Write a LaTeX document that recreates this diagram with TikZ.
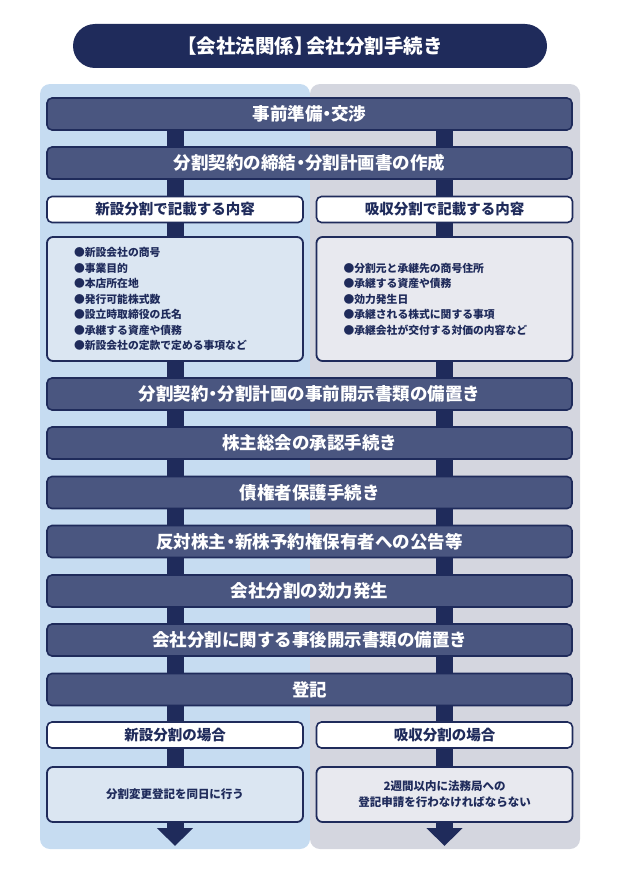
\documentclass[tikz,border=0pt]{standalone}
\usepackage{fontspec}
\setmainfont{Noto Sans CJK JP}
\usetikzlibrary{arrows.meta}
\definecolor{navy}{HTML}{1F2B5B}
\definecolor{barfill}{HTML}{4A5680}
\definecolor{panelblue}{HTML}{C6DCF1}
\definecolor{panelgrey}{HTML}{D4D6DF}
\definecolor{newfill}{HTML}{DBE6F2}
\definecolor{absfill}{HTML}{E8E9EF}
\newcommand{\nakaguro}{\kern-.25em・\kern-.25em}
\begin{document}
\begin{tikzpicture}[x=1pt,y=-1pt,
		flowbar/.style={draw=navy,line width=1.6pt,fill=barfill,rounded corners=5pt,minimum width=525pt,minimum height=32pt,text=white,font=\bfseries\fontsize{17.5}{19}\selectfont},
		headbox/.style={draw=navy,line width=1.6pt,fill=white,rounded corners=5pt,minimum width=256pt,minimum height=26pt,text=navy,font=\bfseries\fontsize{14.5}{16}\selectfont},
		listbox/.style={draw=navy,line width=1.8pt,rounded corners=6pt,minimum height=124pt,inner xsep=27pt,text width=202pt,align=left,text=navy,font=\bfseries\fontsize{10.8}{15.5}\selectfont},
		stem/.style={draw=navy,line width=17pt},
		stemend/.style={draw=navy,line width=17pt,-{Triangle[width=35pt,length=18pt]}}]
			\useasboundingbox (0,0) rectangle (620,891);
			\fill[panelblue,rounded corners=10pt] (40,84) rectangle (310,849);
			\fill[panelgrey,rounded corners=10pt] (310,84) rectangle (580,849);
			\node[fill=navy,rounded corners=22pt,minimum width=474pt,minimum height=44pt,text=white,font=\bfseries\fontsize{19.5}{21}\selectfont] (title) at (310,46) {【会社法関係】\kern-.4em会社分割手続き};
			\node[flowbar] (prep) at (309.5,114) {事前準備\nakaguro 交渉};
			\node[flowbar] (plan) at (309.5,163) {分割契約の締結\nakaguro 分割計画書の作成};
			\node[headbox] (newhead) at (175,209.5) {新設分割で記載する内容};
			\node[headbox] (abshead) at (444.5,209.5) {吸収分割で記載する内容};
			\node[listbox,fill=newfill] (newlist) at (175,299) {●新設会社の商号\\●事業目的\\●本店所在地\\●発行可能株式数\\●設立時取締役の氏名\\●承継する資産や債務\\●新設会社の定款で定める事項など};
			\node[listbox,fill=absfill] (abslist) at (444.5,299) {●分割元と承継先の商号住所\\●承継する資産や債務\\●効力発生日\\●承継される株式に関する事項\\●承継会社が交付する対価の内容など};
			\node[flowbar] (disclose) at (309.5,394) {分割契約\nakaguro 分割計画の事前開示書類の備置き};
			\node[flowbar] (meeting) at (309.5,443) {株主総会の承認手続き};
			\node[flowbar] (creditor) at (309.5,492.5) {債権者保護手続き};
			\node[flowbar] (notice) at (309.5,541.5) {反対株主\nakaguro 新株予約権保有者への公告等};
			\node[flowbar] (effect) at (309.5,591) {会社分割の効力発生};
			\node[flowbar] (after) at (309.5,640) {会社分割に関する事後開示書類の備置き};
			\node[flowbar] (regist) at (309.5,689.5) {登記};
			\node[headbox] (newcase) at (175,735) {新設分割の場合};
			\node[headbox] (abscase) at (444.5,735) {吸収分割の場合};
			\node[listbox,fill=newfill,minimum height=55pt,align=center,font=\bfseries\fontsize{11.5}{16}\selectfont] (newdo) at (175,794.5) {分割変更登記を同日に行う};
			\node[listbox,fill=absfill,minimum height=55pt,align=center,font=\bfseries\fontsize{11.5}{16}\selectfont] (absdo) at (444.5,794.5) {2週間以内に法務局への\\登記申請を行わなければならない};
			\coordinate (newend) at (175,846);
			\coordinate (absend) at (444.5,846);
			\draw[stem] (newhead |- prep.south) -- (newhead |- plan.north);
			\draw[stem] (abshead |- prep.south) -- (abshead |- plan.north);
			\draw[stem] (newhead |- plan.south) -- (newhead.north);
			\draw[stem] (abshead |- plan.south) -- (abshead.north);
			\draw[stem] (newhead.south) -- (newlist.north);
			\draw[stem] (abshead.south) -- (abslist.north);
			\draw[stem] (newlist.south) -- (newhead |- disclose.north);
			\draw[stem] (abslist.south) -- (abshead |- disclose.north);
			\draw[stem] (newhead |- disclose.south) -- (newhead |- meeting.north);
			\draw[stem] (abshead |- disclose.south) -- (abshead |- meeting.north);
			\draw[stem] (newhead |- meeting.south) -- (newhead |- creditor.north);
			\draw[stem] (abshead |- meeting.south) -- (abshead |- creditor.north);
			\draw[stem] (newhead |- creditor.south) -- (newhead |- notice.north);
			\draw[stem] (abshead |- creditor.south) -- (abshead |- notice.north);
			\draw[stem] (newhead |- notice.south) -- (newhead |- effect.north);
			\draw[stem] (abshead |- notice.south) -- (abshead |- effect.north);
			\draw[stem] (newhead |- effect.south) -- (newhead |- after.north);
			\draw[stem] (abshead |- effect.south) -- (abshead |- after.north);
			\draw[stem] (newhead |- after.south) -- (newhead |- regist.north);
			\draw[stem] (abshead |- after.south) -- (abshead |- regist.north);
			\draw[stem] (newcase |- regist.south) -- (newcase.north);
			\draw[stem] (abscase |- regist.south) -- (abscase.north);
			\draw[stem] (newcase.south) -- (newdo.north);
			\draw[stem] (abscase.south) -- (absdo.north);
			\draw[stemend] (newdo.south) -- (newend);
			\draw[stemend] (absdo.south) -- (absend);
		\end{tikzpicture}
\end{document}
